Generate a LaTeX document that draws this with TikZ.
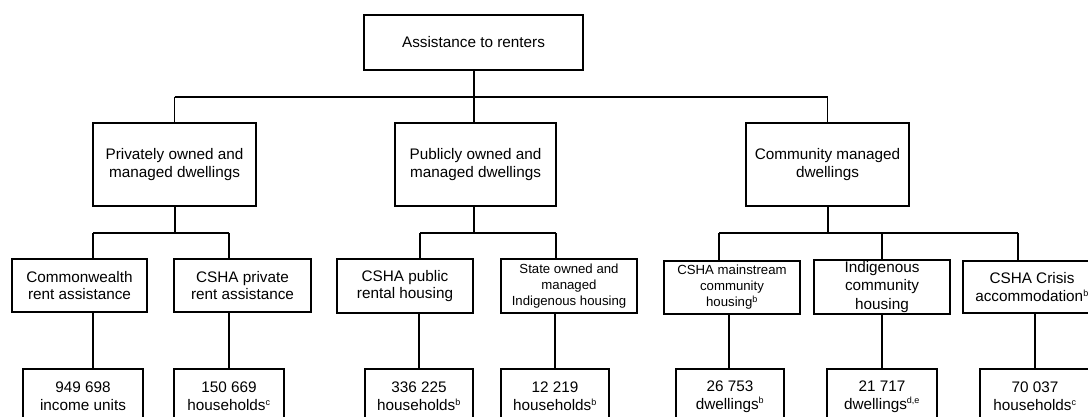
\documentclass[tikz,border=0pt]{standalone}
\usepackage{fontspec}
\setmainfont{Liberation Sans}
\tikzset{
  box/.style={draw, line width=1.1pt, inner sep=0pt, align=center, fill=white,
    font=\fontsize{15.3}{17.7}\selectfont},
  smallbox/.style={box, font=\fontsize{13.2}{16}\selectfont},
  tallbox/.style={box, font=\fontsize{15.3}{18.7}\selectfont},
  conn/.style={line width=1.1pt}
}
\newcommand{\sps}[1]{\textsuperscript{\fontsize{9}{9}\selectfont #1}}
\begin{document}
\begin{tikzpicture}[x=1pt,y=-1pt]
\useasboundingbox (0,0) rectangle (1088,417);
\clip (0,0) rectangle (1088,417);
\fill[white] (0,0) rectangle (1088,417);
% level 1
\node[box, minimum width=219pt, minimum height=55pt] (top) at (473.5,42.5) {Assistance to renters};
% level 2
\node[box, minimum width=163pt, minimum height=83pt] (priv) at (174.5,164.5) {Privately owned and\\managed dwellings};
\node[box, minimum width=161pt, minimum height=83pt] (pub) at (475.5,164.5) {Publicly owned and\\managed dwellings};
\node[box, minimum width=163pt, minimum height=83pt] (comm) at (827.5,164.5) {Community managed\\dwellings};
% level 3
\node[box, minimum width=135pt, minimum height=53pt] (c1) at (79.5,285.5) {Commonwealth\\rent assistance};
\node[box, minimum width=137pt, minimum height=53pt] (c2) at (242.5,285.5) {CSHA private\\rent assistance};
\node[box, minimum width=136pt, minimum height=54pt] (c3) at (405,286) {CSHA public\\rental housing};
\node[smallbox, minimum width=136pt, minimum height=54pt] (c4) at (569,286) {State owned and\\managed\\Indigenous housing};
\node[smallbox, minimum width=136pt, minimum height=53pt] (c5) at (732,287.5) {CSHA mainstream\\community\\housing\sps{b}};
\node[tallbox, minimum width=136pt, minimum height=54pt] (c6) at (882,287) {Indigenous\\community\\housing};
\node[box, minimum width=138pt, minimum height=52pt] (c7) at (1032,287) {CSHA Crisis\\accommodation\sps{b}};
% level 4
\node[box, minimum width=120pt, minimum height=55pt] (d1) at (83,396.5) {949 698\\income units};
\node[box, minimum width=110pt, minimum height=55pt] (d2) at (229,396.5) {150 669\\households\sps{c}};
\node[box, minimum width=108pt, minimum height=55pt] (d3) at (419,396.5) {336 225\\households\sps{b}};
\node[box, minimum width=108pt, minimum height=55pt] (d4) at (555,396.5) {12 219\\households\sps{b}};
\node[box, minimum width=108pt, minimum height=55pt] (d5) at (730,396.5) {26 753\\dwellings\sps{b}};
\node[box, minimum width=110pt, minimum height=55pt] (d6) at (882,396.5) {21 717\\dwellings\sps{d,e}};
\node[box, minimum width=110pt, minimum height=55pt] (d7) at (1035,396.5) {70 037\\households\sps{c}};
% junction coordinates
\coordinate (j0) at (474,97);
\coordinate (jp) at (175,233);
\coordinate (ju) at (474,233);
\coordinate (jc) at (828,233);
\coordinate (x1) at (93,233);
\coordinate (x2) at (229,233);
\coordinate (x3) at (420,233);
\coordinate (x4) at (556,233);
\coordinate (x5) at (719,233);
\coordinate (x6) at (882,233);
\coordinate (x7) at (1018,233);
\coordinate (y1) at (93,0);
\coordinate (y2) at (229,0);
\coordinate (y3) at (419,0);
\coordinate (y4) at (555,0);
\coordinate (y5) at (729,0);
\coordinate (y6) at (882,0);
\coordinate (y7) at (1035,0);
% level 1 -> 2
\draw[conn] (top.south -| j0) -- (j0);
\draw[conn] (j0 -| priv.north) -- (j0 -| comm.north);
\draw[conn] (j0 -| priv.north) -- (priv.north);
\draw[conn] (j0) -- (j0 |- pub.north);
\draw[conn] (j0 -| comm.north) -- (comm.north);
% level 2 -> 3
\draw[conn] (jp |- priv.south) -- (jp);
\draw[conn] (x1) -- (x2);
\draw[conn] (x1) -- (x1 |- c1.north);
\draw[conn] (x2) -- (x2 |- c2.north);
\draw[conn] (ju |- pub.south) -- (ju);
\draw[conn] (x3) -- (x4);
\draw[conn] (x3) -- (x3 |- c3.north);
\draw[conn] (x4) -- (x4 |- c4.north);
\draw[conn] (jc |- comm.south) -- (jc);
\draw[conn] (x5) -- (x7);
\draw[conn] (x5) -- (x5 |- c5.north);
\draw[conn] (x6) -- (x6 |- c6.north);
\draw[conn] (x7) -- (x7 |- c7.north);
% level 3 -> 4
\draw[conn] (y1 |- c1.south) -- (y1 |- d1.north);
\draw[conn] (y2 |- c2.south) -- (y2 |- d2.north);
\draw[conn] (y3 |- c3.south) -- (y3 |- d3.north);
\draw[conn] (y4 |- c4.south) -- (y4 |- d4.north);
\draw[conn] (y5 |- c5.south) -- (y5 |- d5.north);
\draw[conn] (y6 |- c6.south) -- (y6 |- d6.north);
\draw[conn] (y7 |- c7.south) -- (y7 |- d7.north);
\end{tikzpicture}
\end{document}
